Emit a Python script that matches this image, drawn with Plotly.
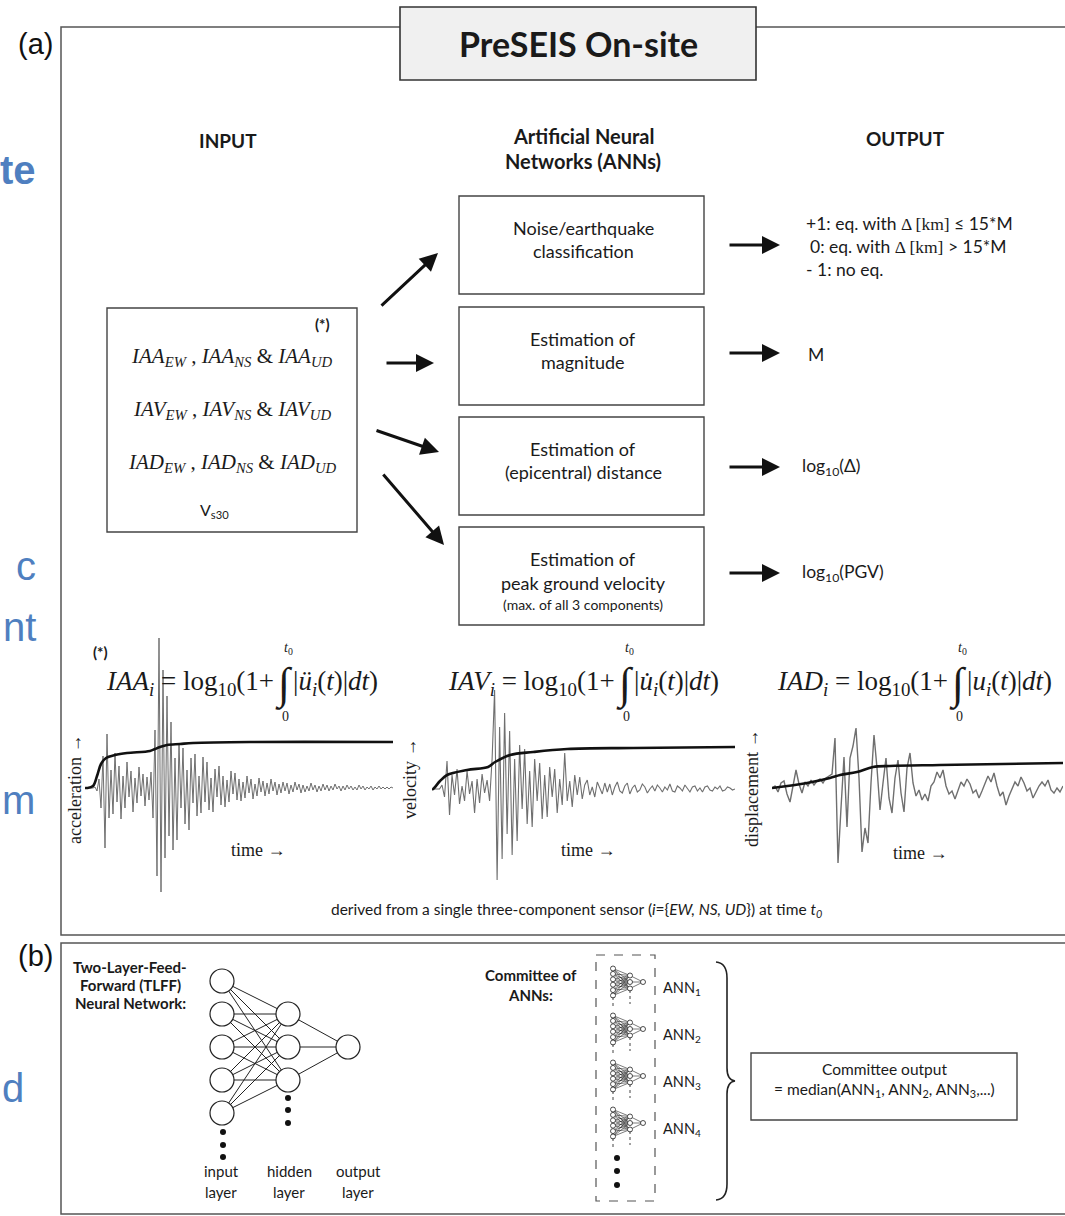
import plotly.graph_objects as go

W, H = 1065, 1216
SANS = "Lato, Open Sans, sans-serif"
SERIF = "Liberation Serif, Times New Roman, serif"
ARIAL = "Liberation Sans, Arial, sans-serif"

# ---------------- data ----------------
# acceleration trace (relative amplitude, one sample per ~2 px)
acc = [0, 0, 0, 0, 0, 1, -3, 9, -20, 32,
       -60, 54, -30, 18, -26, 35, -14, 22, -31, 12,
       -20, 26, -9, 17, -24, 10, -15, 21, -8, 14,
       -18, 11, -12, 16, -30, 58, -88, 150, -104, 118,
       -70, 92, -48, 66, -62, 30, -52, 45, -20, 40,
       -36, 18, -42, 30, -15, 34, -28, 12, -25, 31,
       -14, 26, -22, 10, -24, 19, -9, 22, -17, 12,
       -19, 8, -14, 17, -6, 15, -12, 9, -13, 6,
       -10, 12, -5, 9, -11, 4, -8, 10, -4, 7,
       -8, 5, -6, 9, -3, 6, -7, 4, -5, 6,
       -3, 5, -6, 3, -4, 6, -2, 4, -5, 3,
       -4, 2, -3, 5, -2, 3, -4, 2, -3, 4,
       -2, 3, -3, 2, -2, 4, -1, 2, -3, 2,
       -2, 3, -1, 2, -2, 1, -2, 3, -1, 2,
       -2, 1, -1, 2, -2, 1, -1, 2, -1, 1,
       -1, 1, -1, 1, 0]
acc_cum_t = [0, 1, 4, 6, 8, 10.5, 15, 21, 32.5, 35, 37.5, 41, 47.5, 54, 82.5, 154]
acc_cum_v = [0, 0, 2, 12, 24, 30, 33, 35, 37, 39, 41, 43, 44, 45, 46, 46]

# velocity trace (one sample per ~2.5 px)
vel = [0, 0, 0, 0, 4, -8, 28, -26, 14, -6,
       20, -15, 3, -12, 18, -5, 8, -24, 10, -14,
       15, -4, 9, -12, 30, 99, -91, 62, -70, 76,
       -45, 58, -66, 30, -52, 44, -20, 40, -35, 18,
       -38, 30, -12, 26, -30, 14, -28, 22, -8, 20,
       -24, 10, -16, 36, -12, 8, -18, 14, -6, 12,
       -10, 4, 9, -6, 2, -8, 7, 1, -5, 6,
       -3, 5, -6, 2, 7, -2, -4, 3, 6, -5,
       1, 4, -3, -1, 5, 2, -4, 0, 3, -2,
       4, 1, -3, 2, -1, 5, -2, -3, 3, 1,
       -2, 4, 0, -3, 2, 3, -2, 1, -3, 2,
       3, -1, -2, 2, 0, 3, -2, -1, 2, 1, -1, 0]
vel_cum_t = [0, 0.4, 3.2, 6, 14, 22.4, 25.2, 31.2, 40.4, 54, 80.4, 121]
vel_cum_v = [0, 0, 8, 14, 19, 22, 27, 34, 37, 40, 41, 42]

# displacement trace (one sample per ~3 px)
disp = [0, 2, -4, 5, 7, -6, -14, 3, 18, 4,
        -5, 6, 2, 8, 3, 7, 9, 5, 10, 12,
        14, 50, -75, -20, 31, -39, 30, 42, 60, 10,
        -64, -40, -55, 5, 53, 20, -22, 5, 30, -10,
        -25, 10, 28, -5, -24, 20, 35, 5,
        -8, -2, -12, -6, -13, 2, 6, 16, 10, 18,
        2, -6, -3, -11, -2, 6, 2, 9, 4, -5,
        -2, -10, -3, 4, 12, 6, 15, 2, -8, -4,
        -17, -8, -1, 6, 2, 11, 5, -3, 0, -10,
        -4, 2, 6, 2, 8, -2, -5, 0, -4, 2]
disp_cum_t = [0, 11.7, 19.3, 22.7, 28.3, 33.7, 39.3, 56, 97]
disp_cum_v = [0, 5, 10, 13, 16, 21, 22, 23, 25]

tlff_layers = [5, 3, 1]
mini_layers = [6, 3, 1]
committee = ["ANN<sub>1</sub>", "ANN<sub>2</sub>", "ANN<sub>3</sub>", "ANN<sub>4</sub>"]
ann_tasks = [["Noise/earthquake", "classification"],
             ["Estimation of", "magnitude"],
             ["Estimation of", "(epicentral) distance"],
             ["Estimation of", "peak ground velocity", "(max. of all 3 components)"]]
outputs = ["M", "log<sub>10</sub>(Δ)", "log<sub>10</sub>(PGV)"]

# ---------------- figure ----------------
fig = go.Figure()
LINE = "#444444"
shapes, ann = [], []


def txt(x, y, s, size=16, family=SANS, xanchor="center", color="#1a1a1a", **kw):
    ann.append(dict(x=x, y=y, xref="x", yref="y", text=s, showarrow=False,
                    font=dict(size=size, family=family, color=color),
                    xanchor=xanchor, yanchor="middle", **kw))


def rect(x0, y0, x1, y1, color=LINE, width=1.4, fill=None, dash=None):
    d = dict(type="rect", xref="x", yref="y", x0=x0, y0=y0, x1=x1, y1=y1,
             line=dict(color=color, width=width))
    if fill:
        d["fillcolor"] = fill
    if dash:
        d["line"]["dash"] = dash
    shapes.append(d)


def arrow(tx, ty, hx, hy):
    ann.append(dict(x=hx, y=hy, ax=tx, ay=ty, xref="x", yref="y", axref="x", ayref="y",
                    text="", showarrow=True, arrowhead=2, arrowsize=1.2, arrowwidth=3,
                    arrowcolor="#111111", standoff=0, startstandoff=0,
                    font=dict(size=12)))


# frames
rect(61, 27, 1080, 935, color="#555555", width=1.5)
rect(61, 943, 1080, 1214, color="#555555", width=1.5)
rect(400, 7, 756, 80, color="#333333", width=1.6, fill="#f0f0f0")
txt(578, 43, "<b>PreSEIS On-site</b>", size=34)
txt(35, 44, "(a)", size=29, family=ARIAL, color="#111")
txt(35, 956, "(b)", size=29, family=ARIAL, color="#111")

# cut-off blue words at the left page edge
BLUE = "#4f7fc0"
txt(38, 170, "<b>te</b>", size=40, family=ARIAL, xanchor="right", color=BLUE)
txt(38, 566, "c", size=40, family=ARIAL, xanchor="right", color=BLUE)
txt(38, 627, "nt", size=40, family=ARIAL, xanchor="right", color=BLUE)
txt(0, 800, "m", size=40, family=ARIAL, xanchor="left", color=BLUE)
txt(0, 1088, "d", size=40, family=ARIAL, xanchor="left", color=BLUE)

# headings
txt(228, 140, "<b>INPUT</b>", size=19)
txt(583, 136, "<b>Artificial Neural</b>", size=20)
txt(583, 161, "<b>Networks (ANNs)</b>", size=20)
txt(905, 138, "<b>OUTPUT</b>", size=19)

# input box
rect(107, 308, 357, 532)
txt(322, 324, "<b>(*)</b>", size=15)
for yy, q in zip([357, 410, 463], ["IAA", "IAV", "IAD"]):
    txt(232, yy, f"<i>{q}<sub>EW</sub></i> , <i>{q}<sub>NS</sub></i> &amp; <i>{q}<sub>UD</sub></i>",
        size=21, family=SERIF)
txt(214, 510, "V<sub>s30</sub>", size=16)

# ANN boxes
box_tops = [196, 307, 417, 527]
for top, lines in zip(box_tops, ann_tasks):
    rect(459, top, 704, top + 98)
    if len(lines) == 2:
        txt(583, top + 32, lines[0], size=18)
        txt(583, top + 55, lines[1], size=18)
    else:
        txt(583, top + 32, lines[0], size=18)
        txt(583, top + 56, lines[1], size=18)
        txt(583, top + 77, lines[2], size=14)

# arrows input -> ANNs
arrow(380, 307, 438, 253)
arrow(385, 363, 434, 363)
arrow(375, 430, 439, 452)
arrow(382, 473, 444, 545)
# arrows ANNs -> outputs
for yy in [245, 353, 467, 573]:
    arrow(728, yy, 780, yy)

DK = '<span style="font-family:Liberation Serif">Δ [km]</span>'
txt(804, 223, f"+1: eq. with {DK} ≤ 15*M", size=17.5, xanchor="left")
txt(808, 246, f"0: eq. with {DK} > 15*M", size=17.5, xanchor="left")
txt(804, 269, "- 1: no eq.", size=17.5, xanchor="left")
txt(806, 354, outputs[0], size=17.5, xanchor="left")
txt(800, 467, outputs[1], size=17.5, xanchor="left")
txt(800, 573, outputs[2], size=17.5, xanchor="left")

# formulas
txt(100, 652, "<b>(*)</b>", size=15)
formulas = [("IAA", "ü", 276, 284), ("IAV", "u̇", 617, 625), ("IAD", "u", 950, 958)]
for q, u, xl, xi in formulas:
    txt(xl, 683, f"<i>{q}<sub>i</sub></i> = log<sub>10</sub>(1+", size=27, family=SERIF, xanchor="right")
    txt(xi, 684, "∫", size=44, family=SERIF)
    txt(xi + 7, 683, f"|<i>{u}<sub>i</sub></i>(<i>t</i>)|<i>dt</i>)", size=27, family=SERIF, xanchor="left")
    txt(xi + 4, 648, "<i>t</i><sub>0</sub>", size=14, family=SERIF)
    txt(xi + 1, 716, "0", size=14, family=SERIF)

# waveform labels
txt(75, 790, "acceleration →", size=18, family=SERIF, textangle=-90)
txt(410, 779, "velocity →", size=18, family=SERIF, textangle=-90)
txt(752, 789, "displacement →", size=18, family=SERIF, textangle=-90)
txt(258, 850, "time →", size=18, family=SERIF)
txt(588, 850, "time →", size=18, family=SERIF)
txt(920, 853, "time →", size=18, family=SERIF)
txt(576, 910, "derived from a single three-component sensor (<i>i</i>={<i>EW, NS, UD</i>}) at time <i>t<sub>0</sub></i>",
    size=15.5)

# waveforms on their own axes
GRAY = "#6f6f6f"
panels = [(acc, acc_cum_t, acc_cum_v, "2", 1.0), (vel, vel_cum_t, vel_cum_v, "3", 1.1),
          (disp, disp_cum_t, disp_cum_v, "4", 1.4)]
for sig, ct, cv, k, lw in panels:
    fig.add_trace(go.Scatter(x=list(range(len(sig))), y=sig, mode="lines",
                             line=dict(color=GRAY, width=lw), xaxis="x" + k, yaxis="y" + k,
                             hoverinfo="skip", showlegend=False))
    fig.add_trace(go.Scatter(x=ct, y=cv, mode="lines", line=dict(color="#111111", width=2.6, shape="spline"),
                             xaxis="x" + k, yaxis="y" + k, hoverinfo="skip", showlegend=False))

# ---------------- (b) ----------------
txt(130, 967, "<b>Two-Layer-Feed-</b>", size=15)
txt(130, 985, "<b>Forward (TLFF)</b>", size=15)
txt(130, 1003, "<b>Neural Network:</b>", size=15)


def net(layers, xcols, yc, spacing, size, lw, elw):
    pos = []
    for n, x, sp in zip(layers, xcols, spacing):
        pos.append([(x, yc + (i - (n - 1) / 2) * sp) for i in range(n)])
    ex, ey = [], []
    for a, b in zip(pos[:-1], pos[1:]):
        for p in a:
            for q in b:
                ex += [p[0], q[0], None]
                ey += [p[1], q[1], None]
    fig.add_trace(go.Scatter(x=ex, y=ey, mode="lines", line=dict(color="#222", width=elw),
                             hoverinfo="skip", showlegend=False))
    nx = [p[0] for layer in pos for p in layer]
    ny = [p[1] for layer in pos for p in layer]
    fig.add_trace(go.Scatter(x=nx, y=ny, mode="markers",
                             marker=dict(size=size, color="white", line=dict(color="#222", width=lw)),
                             hoverinfo="skip", showlegend=False))
    return pos


net(tlff_layers, [222, 288, 348], 1047, [33, 33, 33], 24, 1.2, 1.0)
fig.add_trace(go.Scatter(x=[223] * 3 + [288] * 3, y=[1132, 1145, 1157, 1098, 1110, 1123], mode="markers",
                         marker=dict(size=6, color="#111"), hoverinfo="skip", showlegend=False))
for xx, w in zip([221, 289, 358], ["input", "hidden", "output"]):
    txt(xx, 1171, w, size=15)
    txt(xx, 1192, "layer", size=15)

txt(531, 975, "<b>Committee of</b>", size=15)
txt(530, 995, "<b>ANNs:</b>", size=15)
rect(596, 955, 655, 1201, color="#555", width=1.2, dash="dash")
for yc, lab in zip([982, 1029, 1076, 1123], committee):
    net(mini_layers, [613, 630, 643], yc, [5.4, 6.5, 6], 5, 0.8, 0.6)
    fig.add_trace(go.Scatter(x=[613, 613, None, 630, 630], y=[yc + 15, yc + 24, None, yc + 8, yc + 22],
                             mode="lines", line=dict(color="#444", width=1, dash="dot"),
                             hoverinfo="skip", showlegend=False))
    txt(661, yc + 6, lab, size=14.5, xanchor="left")
fig.add_trace(go.Scatter(x=[617] * 3, y=[1158, 1171, 1185], mode="markers",
                         marker=dict(size=6, color="#111"), hoverinfo="skip", showlegend=False))
shapes.append(dict(type="path", xref="x", yref="y",
                   path="M 716,962 Q 727,963 727,978 L 727,1068 Q 727,1080 735,1081 "
                        "Q 727,1082 727,1094 L 727,1184 Q 727,1199 716,1200",
                   line=dict(color="#222", width=1.6)))
rect(751, 1053, 1017, 1120)
txt(884, 1069, "Committee output", size=15.5)
txt(884, 1090, "= median(ANN<sub>1</sub>, ANN<sub>2</sub>, ANN<sub>3</sub>,...)", size=15.5)

# ---------------- layout ----------------
def dom_x(a, b):
    return [a / W, b / W]


def dom_y(top, bottom):
    return [1 - bottom / H, 1 - top / H]


hidden = dict(visible=False, fixedrange=True, showgrid=False, zeroline=False)
fig.update_layout(
    width=W, height=H, margin=dict(l=0, r=0, t=0, b=0),
    paper_bgcolor="white", plot_bgcolor="white", showlegend=False,
    xaxis=dict(range=[0, W], domain=[0, 1], **hidden),
    yaxis=dict(range=[H, 0], domain=[0, 1], **hidden),
    xaxis2=dict(range=[0, len(acc) - 1], domain=dom_x(85, 393), anchor="y2", **hidden),
    yaxis2=dict(range=[-112, 153], domain=dom_y(635, 900), anchor="x2", **hidden),
    xaxis3=dict(range=[0, len(vel) - 1], domain=dom_x(432, 735), anchor="y3", **hidden),
    yaxis3=dict(range=[-111, 109], domain=dom_y(680, 900), anchor="x3", **hidden),
    xaxis4=dict(range=[0, len(disp) - 1], domain=dom_x(772, 1063), anchor="y4", **hidden),
    yaxis4=dict(range=[-82, 68], domain=dom_y(720, 870), anchor="x4", **hidden),
    shapes=shapes, annotations=ann,
)
fig.write_html("out.html", config={"displayModeBar": False},
               post_script="document.body.style.margin='0';document.body.style.overflow='hidden';")
